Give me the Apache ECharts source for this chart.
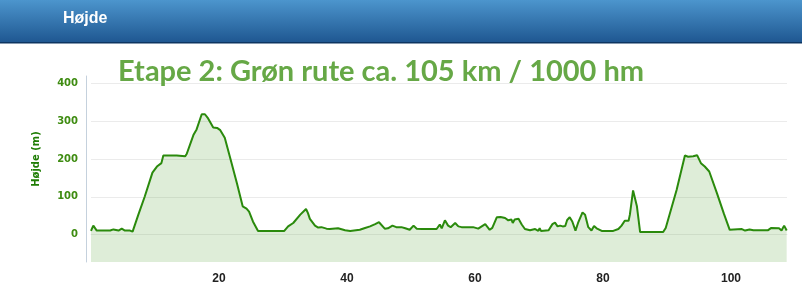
<!DOCTYPE html>
<html>
<head>
<meta charset="utf-8">
<script src="https://cdn.jsdelivr.net/npm/echarts@6/dist/echarts.min.js"></script>
<style>
html,body{margin:0;padding:0;background:#fff;}
#chart{width:802px;height:303px;}
</style>
</head>
<body>
<div id="chart"></div>
<script>
const headerText = 'Højde';
const titleText = 'Etape 2: Grøn rute ca. 105 km / 1000 hm';
const yAxisName = 'Højde (m)';
const yTickValues = [0, 100, 200, 300, 400];
const xTickValues = [20, 40, 60, 80, 100];

const distanceKm = [
  0, 0.36, 0.9, 3.0, 3.5, 4.3, 4.8, 5.3, 6.1, 6.5, 7.4, 8.4, 9.6, 10.3, 11.0, 11.3, 11.6, 13.4, 13.6, 14.7,
  14.95, 16.0, 16.5, 17.3, 17.8, 18.3, 19.1, 19.7, 20.2, 20.9, 21.7, 22.8, 23.7, 24.3, 24.7, 25.3, 26.1, 30.2, 30.8, 31.6,
  32.7, 33.6, 33.9, 34.2, 35.0, 35.5, 36.0, 36.8, 37.3, 38.6, 38.9, 39.7, 40.5, 42.0, 42.7, 42.9, 43.6, 44.4, 45.0, 45.9,
  46.4, 47.1, 47.7, 48.5, 49.1, 49.8, 50.4, 50.9, 51.7, 54.0, 54.5, 54.8, 55.3, 55.8, 56.2, 56.9, 57.4, 57.9, 59.7, 60.0,
  60.5, 61.6, 62.3, 62.7, 63.4, 64.0, 64.7, 65.2, 65.7, 65.9, 66.2, 66.8, 67.3, 67.8, 68.6, 69.4, 69.9, 70.1, 70.3, 71.5,
  72.1, 72.5, 72.9, 73.3, 73.7, 74.1, 74.4, 74.8, 75.2, 75.7, 76.1, 76.8, 77.2, 77.7, 78.2, 78.6, 79.0, 79.8, 81.6, 82.4,
  82.9, 83.4, 84.0, 84.2, 84.7, 85.3, 85.8, 89.4, 89.8, 91.5, 92.8, 93.3, 94.1, 94.7, 95.3, 95.9, 96.6, 97.8, 98.9, 99.8,
  101.7, 102.2, 102.9, 103.5, 105.8, 106.3, 107.5, 107.9, 108.3, 108.7
];
const elevationM = [
  10, 24, 11, 11, 14, 11, 16, 11, 11, 8, 53, 101, 164, 180, 189, 209, 208, 209, 205, 207,
  213, 263, 278, 318, 318, 307, 283, 282, 276, 256, 206, 136, 75, 69, 61, 35, 10, 10, 22, 31,
  53, 68, 57, 42, 24, 19, 20, 16, 15, 17, 18, 12, 10, 13, 17, 12, 22, 28, 33, 16,
  17, 24, 20, 20, 17, 13, 24, 16, 15, 15, 27, 17, 38, 24, 20, 31, 22, 20, 20, 23,
  16, 28, 13, 18, 46, 47, 44, 38, 40, 31, 40, 42, 27, 15, 12, 15, 10, 17, 10, 12,
  28, 32, 22, 24, 22, 23, 39, 46, 35, 11, 31, 59, 53, 20, 11, 23, 17, 10, 10, 15,
  24, 37, 37, 53, 117, 75, 7, 7, 18, 118, 209, 206, 207, 210, 189, 180, 167, 110, 55, 13,
  15, 11, 14, 12, 12, 18, 17, 11, 24, 11
];

const seriesData = distanceKm.map((d, i) => [d, elevationM[i]]);

const chart = echarts.init(document.getElementById('chart'), null, {renderer: 'canvas'});
chart.setOption({
  animation: false,
  backgroundColor: '#ffffff',
  grid: {left: 91, right: 15, top: 76, bottom: 41, containLabel: false},
  graphic: [
    {
      type: 'rect', left: 0, top: 0, z: 10,
      shape: {width: 802, height: 43},
      style: {
        fill: new echarts.graphic.LinearGradient(0, 0, 0, 1, [
          {offset: 0, color: '#4c95cd'},
          {offset: 1, color: '#1e5690'}
        ])
      }
    },
    {
      type: 'rect', left: 0, top: 42, z: 11,
      shape: {width: 802, height: 1.5},
      style: {fill: '#0d3561'}
    },
    {
      type: 'text', x: 63, y: 19, z: 12,
      style: {
        text: headerText, fill: '#ffffff',
        font: 'bold 16px "Liberation Sans", Arial, sans-serif',
        textVerticalAlign: 'middle', verticalAlign: 'middle',
        shadowColor: 'rgba(0,0,0,0.75)', shadowOffsetX: 1, shadowOffsetY: 1, shadowBlur: 0
      }
    },
    {
      type: 'text', x: 118, y: 72, z: 12,
      style: {
        text: titleText, fill: '#66a846',
        font: 'bold 29px Lato, "Open Sans", sans-serif',
        verticalAlign: 'middle', textVerticalAlign: 'middle'
      }
    },
    {
      type: 'text', x: 36, y: 159, z: 12, rotation: Math.PI / 2,
      style: {
        text: yAxisName, fill: '#1f7d05',
        font: 'bold 10px "DejaVu Sans", Verdana, sans-serif',
        align: 'center', verticalAlign: 'middle', textAlign: 'center', textVerticalAlign: 'middle'
      }
    }
  ],
  xAxis: {
    type: 'value', min: 0, max: 108.75, interval: 20,
    axisLine: {show: true, lineStyle: {color: '#e4ecf0', width: 1}},
    axisTick: {show: false},
    splitLine: {show: false},
    axisLabel: {
      customValues: xTickValues,
      color: '#222222', fontWeight: 'bold', fontSize: 12,
      fontFamily: '"Liberation Sans Narrow", "Liberation Sans", Arial, sans-serif',
      margin: 11
    }
  },
  yAxis: {
    type: 'value', min: -72, max: 419, offset: 5,
    axisLine: {show: true, onZero: false, lineStyle: {color: '#c5d1dd', width: 1}},
    axisTick: {show: false},
    splitLine: {show: false},
    axisLabel: {
      customValues: yTickValues,
      color: '#3f8c12', fontWeight: 'bold', fontSize: 10,
      fontFamily: '"DejaVu Sans", Verdana, sans-serif',
      margin: 8
    }
  },
  series: [{
    type: 'line',
    data: seriesData,
    showSymbol: false,
    smooth: false,
    lineStyle: {color: '#2a8a0c', width: 2},
    areaStyle: {color: 'rgba(100,170,70,0.3)', origin: 'start'},
    markLine: {
      silent: true, symbol: 'none', label: {show: false},
      lineStyle: {color: '#ebebeb', type: 'solid', width: 1},
      data: yTickValues.map(v => ({yAxis: v})),
      z: 1
    }
  }]
});
</script>
</body>
</html>
